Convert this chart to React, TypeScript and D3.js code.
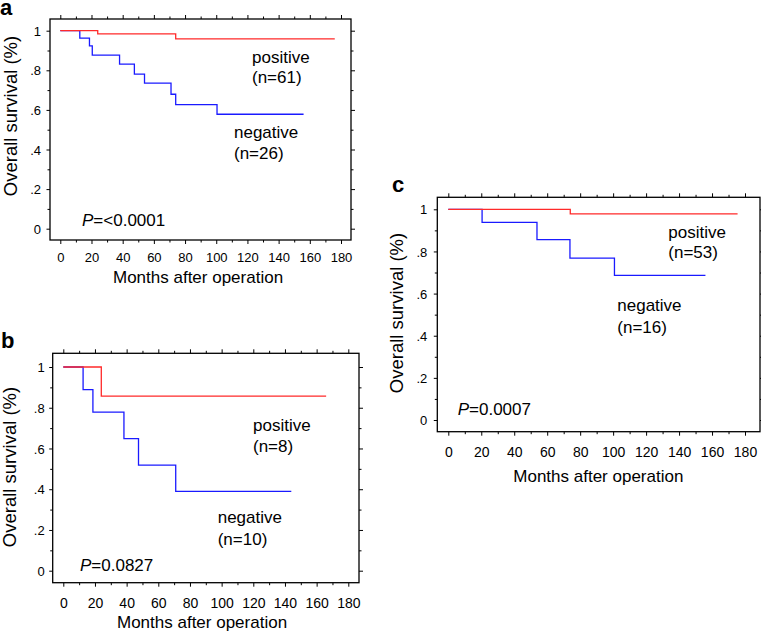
import { useEffect, useRef } from "react";
import * as d3 from "d3";

// Kaplan-Meier steps: survival holds from time[i] until time[i+1]; last time = end of follow-up
const aPosTimes = [0, 24, 74, 176];
const aPosSurv = [1, 0.984, 0.959, 0.959];
const aNegTimes = [0, 12.5, 18.7, 20.5, 38, 47.5, 54, 71, 74, 100.5, 156];
const aNegSurv = [1, 0.962, 0.923, 0.877, 0.831, 0.781, 0.735, 0.679, 0.627, 0.578, 0.578];

const bPosTimes = [0, 24, 166];
const bPosSurv = [1, 0.857, 0.857];
const bNegTimes = [0, 12.5, 18.7, 38.3, 47.5, 71, 144];
const bNegSurv = [1, 0.889, 0.778, 0.648, 0.518, 0.389, 0.389];

const cPosTimes = [0, 74, 175.5];
const cPosSurv = [1, 0.978, 0.978];
const cNegTimes = [0, 20.5, 53.8, 73.8, 100.8, 156];
const cNegSurv = [1, 0.938, 0.856, 0.768, 0.686, 0.686];

const xMajorTicks = [0, 20, 40, 60, 80, 100, 120, 140, 160, 180];
const xMinorTicks = [10, 30, 50, 70, 90, 110, 130, 150, 170];
const yMajorTicks = [0, 0.2, 0.4, 0.6, 0.8, 1];
const yMinorTicks = [0.1, 0.3, 0.5, 0.7, 0.9];
const yTickLabels = ["0", ".2", ".4", ".6", ".8", "1"];

const FONT = "'Liberation Sans', Arial, sans-serif";
const NARROW = "'Liberation Sans Narrow', 'Liberation Sans', Arial, sans-serif";

type PanelCfg = {
  letter: string;
  letterX: number;
  letterY: number;
  box: [number, number, number, number]; // left, top, right, bottom
  xRange: [number, number];
  yRange: [number, number];
  xTickFont: string;
  xTickSize: number;
  xTickBase: number;
  yTickGap: number;
  xLabelX: number;
  xLabelY: number;
  yLabelX: number;
  yLabelY: number;
  pos: { t: number[]; s: number[] };
  neg: { t: number[]; s: number[] };
  posLabel: [string, string, number, number, number];
  negLabel: [string, string, number, number, number];
  pText: string;
  pX: number;
  pY: number;
};

const panels: PanelCfg[] = [
  {
    letter: "a", letterX: 0, letterY: 15,
    box: [50, 19, 351, 240],
    xRange: [60.3, 341], yRange: [228.7, 30.7],
    xTickFont: FONT, xTickSize: 13, xTickBase: 22.3, yTickGap: 9,
    xLabelX: 113, xLabelY: 282.5, yLabelX: 16.5, yLabelY: 116,
    pos: { t: aPosTimes, s: aPosSurv },
    neg: { t: aNegTimes, s: aNegSurv },
    posLabel: ["positive", "(n=61)", 252, 63, 82.5],
    negLabel: ["negative", "(n=26)", 234, 138, 159],
    pText: "=<0.0001", pX: 82, pY: 226,
  },
  {
    letter: "b", letterX: 1, letterY: 348,
    box: [52.7, 353.3, 359, 582.7],
    xRange: [63.3, 348.3], yRange: [570.7, 367],
    xTickFont: NARROW, xTickSize: 14, xTickBase: 25.6, yTickGap: 8,
    xLabelX: 117, xLabelY: 628, yLabelX: 15.5, yLabelY: 467,
    pos: { t: bPosTimes, s: bPosSurv },
    neg: { t: bNegTimes, s: bNegSurv },
    posLabel: ["positive", "(n=8)", 253, 431, 451.7],
    negLabel: ["negative", "(n=10)", 217.7, 522.7, 545],
    pText: "=0.0827", pX: 80, pY: 570.7,
  },
  {
    letter: "c", letterX: 392, letterY: 192,
    box: [437.3, 197.3, 760, 431.7],
    xRange: [448.3, 745], yRange: [420, 209.3],
    xTickFont: NARROW, xTickSize: 14, xTickBase: 25, yTickGap: 10,
    xLabelX: 513.3, xLabelY: 481.7, yLabelX: 403, yLabelY: 313,
    pos: { t: cPosTimes, s: cPosSurv },
    neg: { t: cNegTimes, s: cNegSurv },
    posLabel: ["positive", "(n=53)", 668.3, 237.7, 258.3],
    negLabel: ["negative", "(n=16)", 617.3, 310.7, 332.7],
    pText: "=0.0007", pX: 457.7, pY: 415,
  },
];

function drawPanel(svg: d3.Selection<SVGSVGElement, unknown, null, undefined>, p: PanelCfg) {
  const [L, T, R, B] = p.box;
  const x = d3.scaleLinear().domain([0, 180]).range(p.xRange);
  const y = d3.scaleLinear().domain([0, 1]).range(p.yRange);
  const g = svg.append("g");

  const tickAxis = (axis: d3.Axis<d3.NumberValue>, tx: number, ty: number) => {
    const ag = g.append("g").attr("transform", `translate(${tx},${ty})`).call(axis);
    ag.select(".domain").remove();
    ag.selectAll("line").attr("stroke", "#000").attr("stroke-width", 1);
    return ag;
  };

  // frame ticks on all four sides
  tickAxis(d3.axisTop(x).tickValues(xMajorTicks).tickSize(4).tickFormat(() => ""), 0, T);
  tickAxis(d3.axisTop(x).tickValues(xMinorTicks).tickSize(2.5).tickFormat(() => ""), 0, T);
  tickAxis(d3.axisBottom(x).tickValues(xMinorTicks).tickSize(2.5).tickFormat(() => ""), 0, B);
  const xb = tickAxis(d3.axisBottom(x).tickValues(xMajorTicks).tickSize(4).tickFormat(d3.format("d")), 0, B);
  xb.selectAll("text")
    .attr("y", p.xTickBase)
    .attr("dy", null)
    .attr("fill", "#000")
    .style("font-family", p.xTickFont)
    .style("font-size", `${p.xTickSize}px`);

  tickAxis(d3.axisRight(y).tickValues(yMajorTicks).tickSize(4).tickFormat(() => ""), R, 0);
  tickAxis(d3.axisRight(y).tickValues(yMinorTicks).tickSize(2.5).tickFormat(() => ""), R, 0);
  tickAxis(d3.axisLeft(y).tickValues(yMinorTicks).tickSize(2.5).tickFormat(() => ""), L, 0);
  const yl = tickAxis(
    d3.axisLeft(y).tickValues(yMajorTicks).tickSize(3.5)
      .tickFormat((_, i) => yTickLabels[i]),
    L, 0
  );
  yl.selectAll("text")
    .attr("x", -p.yTickGap)
    .attr("dy", "0.36em")
    .attr("fill", "#000")
    .style("font-family", FONT)
    .style("font-size", "13px");

  g.append("rect")
    .attr("x", L).attr("y", T)
    .attr("width", R - L).attr("height", B - T)
    .attr("fill", "none").attr("stroke", "#000").attr("stroke-width", 1.3);

  const stepLine = d3.line<[number, number]>()
    .x((d) => x(d[0]))
    .y((d) => y(d[1]))
    .curve(d3.curveStepAfter);

  const path = (t: number[], s: number[], color: string) => {
    g.append("path")
      .attr("d", stepLine(t.map((tt, i) => [tt, s[i]] as [number, number])))
      .attr("fill", "none")
      .attr("stroke", color)
      .attr("stroke-width", 1.3);
  };
  path(p.neg.t, p.neg.s, "#1a1aff");
  path(p.pos.t, p.pos.s, "#ff2a2a");

  const txt = (s: string, tx: number, ty: number, size = 17) =>
    g.append("text")
      .attr("x", tx).attr("y", ty)
      .style("font-family", FONT)
      .style("font-size", `${size}px`)
      .attr("fill", "#000")
      .text(s);

  txt(p.posLabel[0], p.posLabel[2], p.posLabel[3]);
  txt(p.posLabel[1], p.posLabel[2], p.posLabel[4]);
  txt(p.negLabel[0], p.negLabel[2], p.negLabel[3]);
  txt(p.negLabel[1], p.negLabel[2], p.negLabel[4]);

  const pt = txt("", p.pX, p.pY);
  pt.append("tspan").style("font-style", "italic").text("P");
  pt.append("tspan").text(p.pText);

  txt("Months after operation", p.xLabelX, p.xLabelY);

  g.append("text")
    .attr("transform", `translate(${p.yLabelX},${p.yLabelY}) rotate(-90)`)
    .attr("text-anchor", "middle")
    .style("font-family", FONT)
    .style("font-size", "18.5px")
    .attr("fill", "#000")
    .text("Overall survival (%)");

  g.append("text")
    .attr("x", p.letterX).attr("y", p.letterY)
    .style("font-family", FONT)
    .style("font-size", "22px")
    .style("font-weight", "bold")
    .attr("fill", "#000")
    .text(p.letter);
}

export default function App() {
  const svgRef = useRef<SVGSVGElement | null>(null);

  useEffect(() => {
    if (!svgRef.current) return;
    const svg = d3.select(svgRef.current);
    svg.selectAll("*").remove();
    panels.forEach((p) => drawPanel(svg, p));
  }, []);

  return (
    <>
      <style>{`body{margin:0;background:#fff}`}</style>
      <svg ref={svgRef} width={761} height={633} style={{ display: "block", background: "#fff" }} />
    </>
  );
}
